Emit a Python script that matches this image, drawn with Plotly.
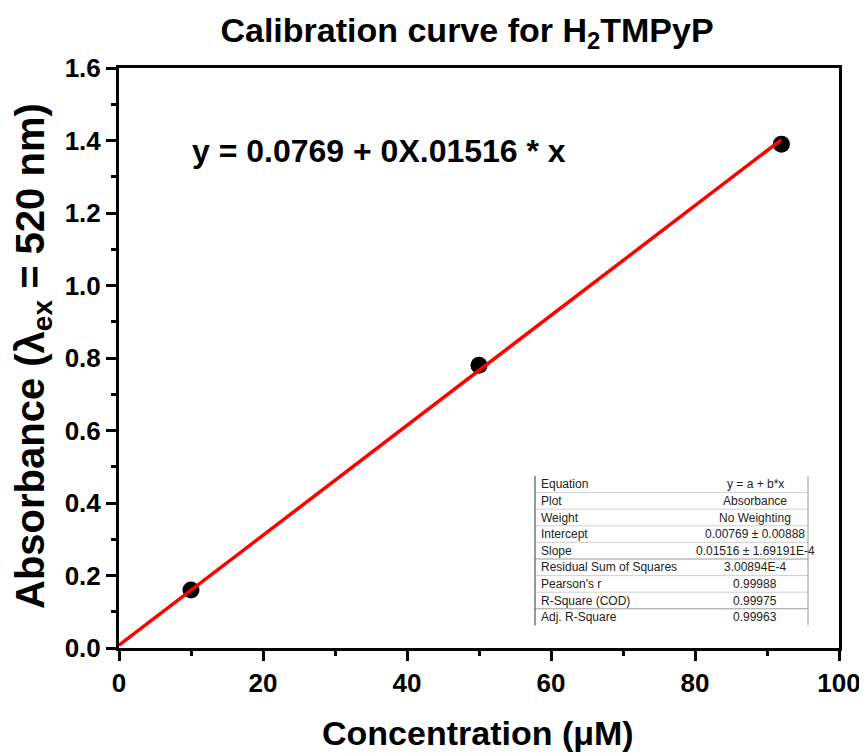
import plotly.graph_objects as go

# ---- data ----
conc = [10, 50, 92]
absorb = [0.16, 0.78, 1.39]
fit_intercept = 0.00769
fit_slope = 0.01516
fit_x_range = [0, 92]

table_labels = ["Equation", "Plot", "Weight", "Intercept", "Slope",
                "Residual Sum of Squares", "Pearson's r", "R-Square (COD)", "Adj. R-Square"]
table_values = ["y = a + b*x", "Absorbance", "No Weighting", "0.00769 ± 0.00888",
                "0.01516 ± 1.69191E-4", "3.00894E-4", "0.99988", "0.99975", "0.99963"]

# page has an 8px body margin; work in page pixels and convert
OFF = 8
W, H = 867 - OFF, 753 - OFF
PX0, PX1, PY0, PY1 = 119, 839, 68, 648   # plot area in page pixels
L, R, T, B = PX0 - OFF, W - (PX1 - OFF), PY0 - OFF, H - (PY1 - OFF)
pw, ph = PX1 - PX0, PY1 - PY0

def px(x):
    return (x - PX0) / pw

def py(y):
    return (PY1 - y) / ph

fit_y = [fit_intercept + fit_slope * x for x in fit_x_range]

fig = go.Figure()
fig.add_trace(go.Scatter(x=conc, y=absorb, mode="markers",
                         marker=dict(size=17, color="black"), showlegend=False))
fig.add_trace(go.Scatter(x=fit_x_range, y=fit_y, mode="lines",
                         line=dict(color="#ff0000", width=3.5), showlegend=False))

font_main = "Liberation Sans, Arial, sans-serif"

axis_common = dict(
    showline=True, linecolor="black", linewidth=3, mirror=True,
    ticks="outside", ticklen=10, tickwidth=3, tickcolor="black",
    showgrid=False, zeroline=False, automargin=False,
    tickfont=dict(family=font_main, size=26, color="black", weight="bold"),
)

fig.update_xaxes(range=[0, 100], tick0=0, dtick=20,
                 minor=dict(ticks="outside", ticklen=5, tickwidth=3, dtick=10, tickcolor="black"),
                 **axis_common)
fig.update_yaxes(range=[0, 1.6], tick0=0, dtick=0.2, tickformat=".1f",
                 minor=dict(ticks="outside", ticklen=5, tickwidth=3, dtick=0.1, tickcolor="black"),
                 **axis_common)

annotations = []
# axis titles
annotations.append(dict(
    text="Concentration (μM)", xref="paper", yref="paper",
    x=px(478), y=py(733), xanchor="center", yanchor="middle", showarrow=False,
    font=dict(family=font_main, size=34, color="black", weight="bold")))
annotations.append(dict(
    text="Absorbance (λ<sub>ex</sub> = 520 nm)", xref="paper", yref="paper",
    x=px(33), y=py(356), xanchor="center", yanchor="middle", showarrow=False, textangle=-90,
    font=dict(family=font_main, size=40, color="black", weight="bold")))
# fit equation
annotations.append(dict(
    text="y = 0.0769 + 0X.01516 * x", xref="paper", yref="paper",
    x=px(190), y=py(151), xanchor="left", yanchor="middle", showarrow=False,
    font=dict(family=font_main, size=32, color="black", weight="bold")))

# stats table
tbl_left, tbl_right, tbl_top = 535, 808, 476
row_h = 16.6
shapes = []
for i, (lab, val) in enumerate(zip(table_labels, table_values)):
    yc = tbl_top + row_h * (i + 0.5)
    annotations.append(dict(text=lab, xref="paper", yref="paper", x=px(tbl_left + 4), y=py(yc),
                            xanchor="left", yanchor="middle", showarrow=False,
                            font=dict(family=font_main, size=12, color="#222")))
    annotations.append(dict(text=val, xref="paper", yref="paper", x=px(755), y=py(yc),
                            xanchor="center", yanchor="middle", showarrow=False,
                            font=dict(family=font_main, size=12, color="#222")))
    if i < len(table_labels) - 1:
        yl = tbl_top + row_h * (i + 1)
        dark = i in (4, 7)
        shapes.append(dict(type="line", xref="paper", yref="paper",
                           x0=px(tbl_left), x1=px(tbl_right), y0=py(yl), y1=py(yl),
                           line=dict(color="#9a9a9a" if dark else "#d0d0d0", width=1)))
tbl_bottom = tbl_top + row_h * len(table_labels)
shapes.append(dict(type="line", xref="paper", yref="paper",
                   x0=px(tbl_left), x1=px(tbl_left), y0=py(tbl_top), y1=py(tbl_bottom),
                   line=dict(color="#555", width=1.2)))
shapes.append(dict(type="line", xref="paper", yref="paper",
                   x0=px(tbl_right), x1=px(tbl_right), y0=py(tbl_top), y1=py(tbl_bottom),
                   line=dict(color="#999", width=1)))

fig.update_layout(
    width=W, height=H,
    margin=dict(l=L, r=R, t=T, b=B),
    paper_bgcolor="white", plot_bgcolor="white",
    title=dict(text="Calibration curve for H<sub>2</sub>TMPyP", x=(467 - OFF) / W, xanchor="center",
               y=1 - (30 - OFF) / H, yanchor="middle",
               font=dict(family=font_main, size=34, color="black", weight="bold")),
    annotations=annotations, shapes=shapes,
)

fig.write_html("out.html")
